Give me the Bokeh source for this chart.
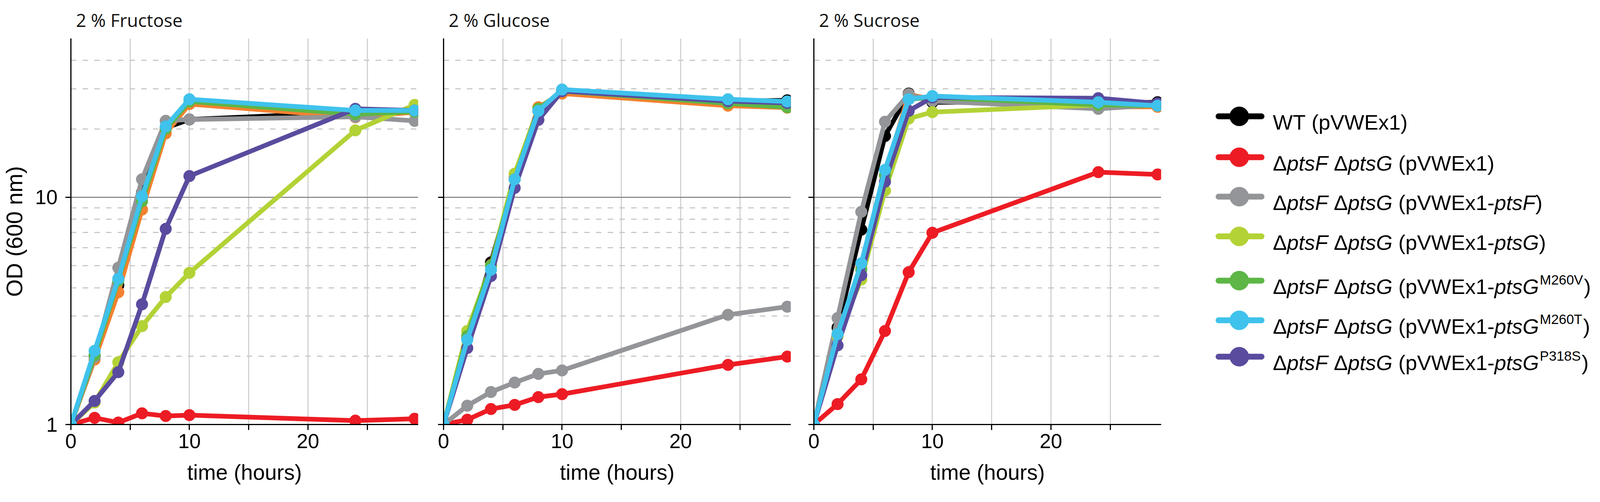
from bokeh.plotting import figure
from bokeh.layouts import row
from bokeh.models import Range1d, FixedTicker, NumeralTickFormatter, CustomJSTickFormatter
from bokeh.core.properties import value
from bokeh.embed import file_html
from bokeh.resources import INLINE

# ---------------- data (OD600) ----------------
hours = [0, 2, 4, 6, 8, 10, 24, 29]

panel_titles = ["2 % Fructose", "2 % Glucose", "2 % Sucrose"]

# 2 % Fructose
fru_wt    = [1.0, 2.00, 4.10, 10.5, 20.2, 22.0, 23.7, 23.7]
fru_dd    = [1.0, 1.07, 1.02, 1.12, 1.09, 1.10, 1.04, 1.06]
fru_ptsF  = [1.0, 1.98, 4.90, 12.0, 21.7, 22.0, 22.6, 21.7]
fru_ptsG  = [1.0, 1.25, 1.88, 2.71, 3.64, 4.65, 19.7, 25.5]
fru_m260v = [1.0, 2.02, 4.30, 9.60, 20.0, 26.4, 23.2, 23.8]
fru_m260t = [1.0, 2.11, 4.38, 10.1, 20.5, 27.0, 24.1, 24.1]
fru_p318s = [1.0, 1.27, 1.70, 3.38, 7.26, 12.4, 24.5, 24.1]
fru_extra = [1.0, 1.93, 3.82, 8.83, 19.1, 25.7, 22.5, 23.7]

# 2 % Glucose
glc_wt    = [1.0, 2.40, 5.17, 12.0, 24.0, 29.5, 26.5, 26.7]
glc_dd    = [1.0, 1.05, 1.17, 1.22, 1.32, 1.36, 1.83, 1.99]
glc_ptsF  = [1.0, 1.21, 1.39, 1.53, 1.67, 1.73, 3.04, 3.30]
glc_ptsG  = [1.0, 2.58, 5.00, 12.7, 24.5, 29.3, 26.0, 25.5]
glc_m260v = [1.0, 2.45, 5.00, 12.0, 24.5, 29.3, 25.9, 24.9]
glc_m260t = [1.0, 2.36, 4.80, 12.0, 24.0, 29.8, 27.0, 26.4]
glc_p318s = [1.0, 2.17, 4.50, 11.0, 21.9, 29.3, 26.5, 26.0]
glc_extra = [1.0, 2.46, 5.03, 12.3, 24.9, 28.6, 25.3, 24.8]

# 2 % Sucrose
suc_wt    = [1.0, 2.67, 7.20, 18.6, 28.6, 26.2, 26.0, 26.2]
suc_dd    = [1.0, 1.23, 1.58, 2.58, 4.68, 6.98, 12.9, 12.6]
suc_ptsF  = [1.0, 2.94, 8.63, 21.5, 28.4, 26.5, 24.5, 25.5]
suc_ptsG  = [1.0, 2.45, 4.35, 10.7, 22.2, 23.7, 25.5, 25.5]
suc_m260v = [1.0, 2.50, 4.80, 12.5, 27.0, 27.5, 25.5, 25.3]
suc_m260t = [1.0, 2.50, 5.12, 13.2, 27.0, 27.9, 26.2, 25.3]
suc_p318s = [1.0, 2.23, 4.54, 11.7, 24.0, 27.5, 27.3, 25.9]
suc_extra = [1.0, 2.45, 4.90, 12.5, 28.4, 27.0, 25.0, 25.0]

x_ticks = [0, 5, 10, 15, 20, 25]
y_ticks = [1, 10]
y_minor = [2, 3, 4, 5, 6, 7, 8, 9, 20, 30, 40, 50]

strain_colors = {
    "wt": "#000000",
    "dd": "#ED1C24",
    "ptsF": "#939598",
    "ptsG": "#B3D236",
    "m260v": "#5DB646",
    "m260t": "#3FC2EC",
    "p318s": "#5A4B9E",
    "extra": "#F4812F",
}
draw_order = ["wt", "dd", "extra", "ptsF", "ptsG", "m260v", "p318s", "m260t"]
legend_order = ["wt", "dd", "ptsF", "ptsG", "m260v", "m260t", "p318s"]

# legend labels: (text, style) with style n = upright, i = italic, s = superscript
legend_labels = {
    "wt": [("WT", "n"), (" (pVWEx1)", "n")],
    "dd": [("\u0394", "n"), ("ptsF", "i"), (" \u0394", "n"), ("ptsG", "i"), (" (pVWEx1)", "n")],
    "ptsF": [("\u0394", "n"), ("ptsF", "i"), (" \u0394", "n"), ("ptsG", "i"), (" (pVWEx1-", "n"), ("ptsF", "i"), (")", "n")],
    "ptsG": [("\u0394", "n"), ("ptsF", "i"), (" \u0394", "n"), ("ptsG", "i"), (" (pVWEx1-", "n"), ("ptsG", "i"), (")", "n")],
    "m260v": [("\u0394", "n"), ("ptsF", "i"), (" \u0394", "n"), ("ptsG", "i"), (" (pVWEx1-", "n"), ("ptsG", "i"), ("M260V", "s"), (")", "n")],
    "m260t": [("\u0394", "n"), ("ptsF", "i"), (" \u0394", "n"), ("ptsG", "i"), (" (pVWEx1-", "n"), ("ptsG", "i"), ("M260T", "s"), (")", "n")],
    "p318s": [("\u0394", "n"), ("ptsF", "i"), (" \u0394", "n"), ("ptsG", "i"), (" (pVWEx1-", "n"), ("ptsG", "i"), ("P318S", "s"), (")", "n")],
}

panels = [
    {"wt": fru_wt, "dd": fru_dd, "ptsF": fru_ptsF, "ptsG": fru_ptsG, "m260v": fru_m260v,
     "m260t": fru_m260t, "p318s": fru_p318s, "extra": fru_extra},
    {"wt": glc_wt, "dd": glc_dd, "ptsF": glc_ptsF, "ptsG": glc_ptsG, "m260v": glc_m260v,
     "m260t": glc_m260t, "p318s": glc_p318s, "extra": glc_extra},
    {"wt": suc_wt, "dd": suc_dd, "ptsF": suc_ptsF, "ptsG": suc_ptsG, "m260v": suc_m260v,
     "m260t": suc_m260t, "p318s": suc_p318s, "extra": suc_extra},
]

# ---------------- layout ----------------
FRAME_W, FRAME_H = 889, 989
TOP, BOTTOM = 92, 185
LEFTS = [170, 38, 37]
RIGHTS = [27, 22, 36]
TOTAL_H = TOP + FRAME_H + BOTTOM
TICK_FONT = "Liberation Sans"


def make_panel(i):
    p = figure(frame_width=FRAME_W, frame_height=FRAME_H,
               min_border_left=LEFTS[i], min_border_right=RIGHTS[i],
               min_border_top=TOP, min_border_bottom=BOTTOM,
               x_range=Range1d(0, 29.3), y_range=Range1d(1, 50), y_axis_type="log",
               output_backend="svg", toolbar_location=None)
    p.outline_line_color = None
    p.background_fill_color = "white"

    p.title.text = panel_titles[i]
    p.title.text_font = "Open Sans"
    p.title.text_font_size = "46px"
    p.title.text_font_style = "normal"
    p.title.text_color = "#111111"
    p.title.align = "left"
    p.title.offset = 13
    p.title.standoff = 34

    # grids
    p.xgrid.ticker = FixedTicker(ticks=[5, 10, 15, 20, 25])
    p.xgrid.grid_line_color = "#d2d2d2"
    p.xgrid.grid_line_width = 3
    p.ygrid.ticker = FixedTicker(ticks=[10], minor_ticks=y_minor)
    p.ygrid.grid_line_color = "#8c8c8c"
    p.ygrid.grid_line_width = 3
    p.ygrid.minor_grid_line_color = "#c9c9c9"
    p.ygrid.minor_grid_line_width = 3
    p.ygrid.minor_grid_line_dash = "14 16"

    # axes
    for ax in (p.xaxis[0], p.yaxis[0]):
        ax.axis_line_color = "black"
        ax.axis_line_width = 3
        ax.major_tick_line_color = "black"
        ax.major_tick_line_width = 3
        ax.major_tick_out = 14
        ax.major_tick_in = 0
        ax.minor_tick_line_color = None
        ax.major_label_text_font = TICK_FONT
        ax.major_label_text_font_size = "52px"
        ax.major_label_text_color = "black"
        ax.axis_label_text_font = TICK_FONT
        ax.axis_label_text_font_style = "normal"
        ax.axis_label_text_color = "black"

    p.xaxis.ticker = FixedTicker(ticks=x_ticks)
    p.xaxis.formatter = CustomJSTickFormatter(code="return (tick % 10 === 0) ? String(tick) : '';")
    p.xaxis.major_label_standoff = 10
    p.xaxis.axis_label = "time (hours)"
    p.xaxis.axis_label_text_font_size = "55px"
    p.xaxis.axis_label_standoff = 28

    p.yaxis.ticker = FixedTicker(ticks=y_ticks, minor_ticks=[])
    if i == 0:
        p.yaxis.formatter = NumeralTickFormatter(format="0")
        p.yaxis.major_label_standoff = 20
        p.yaxis.axis_label = "OD (600 nm)"
        p.yaxis.axis_label_text_font_size = "58px"
        p.yaxis.axis_label_standoff = 18
    else:
        p.yaxis.formatter = CustomJSTickFormatter(code="return '';")
        p.yaxis.major_label_standoff = 0

    data = panels[i]
    for key in draw_order:
        c = strain_colors[key]
        p.line(hours, data[key], line_color=c, line_width=12, line_join="round")
        p.scatter(hours, data[key], size=30, fill_color=c, line_color=c, line_width=1)
    return p


# ---------------- legend (its own figure, pixel coordinates) ----------------
ADV = {"W": 944, "T": 611, " ": 278, "(": 333, ")": 333, "p": 556, "V": 667, "E": 667,
       "x": 500, "1": 556, "-": 333, "t": 278, "s": 500, "F": 611, "G": 778, "M": 833,
       "2": 556, "6": 556, "0": 556, "P": 667, "3": 556, "8": 556, "S": 667, "\u0394": 668}
LEG_W = 1083
LEG_FONT = 54
SUP_FONT = 35
leg_rows_y = [257, 392, 522, 653, 799, 930, 1050]   # row centres (layout)
LINE_X0, LINE_X1, DOT_X, TEXT_X = 111, 221, 164, 250


def twidth(s, size):
    return sum(ADV.get(ch, 556) for ch in s) * size / 1000.0


leg = figure(width=LEG_W, height=TOTAL_H, x_range=Range1d(0, LEG_W), y_range=Range1d(TOTAL_H, 0),
             min_border=0, output_backend="svg", toolbar_location=None)
leg.axis.visible = False
leg.grid.visible = False
leg.outline_line_color = None

pieces = {"n": ([], [], []), "i": ([], [], []), "s": ([], [], [])}
for r, key in enumerate(legend_order):
    yc = leg_rows_y[r]
    c = strain_colors[key]
    leg.line([LINE_X0, LINE_X1], [yc, yc], line_color=c, line_width=15, line_cap="round")
    leg.scatter([DOT_X], [yc], size=49, fill_color=c, line_color=c)
    base = yc + 0.36 * LEG_FONT
    x = TEXT_X
    for txt, st in legend_labels[key]:
        size = SUP_FONT if st == "s" else LEG_FONT
        lead = len(txt) - len(txt.lstrip(" "))
        x += lead * twidth(" ", size)
        core = txt.lstrip(" ")
        if st == "s":
            pieces[st][0].append(x + 2)
            pieces[st][1].append(base - 23)
            pieces[st][2].append(core)
            x += twidth(core, size) + 4
        else:
            pieces[st][0].append(x)
            pieces[st][1].append(base)
            pieces[st][2].append(core)
            x += twidth(core, size)

for st, (xs, ys, ts) in pieces.items():
    if not xs:
        continue
    leg.text(x=xs, y=ys, text=ts, text_font=value("Liberation Sans"),
             text_font_size=f"{SUP_FONT if st == 's' else LEG_FONT}px",
             text_font_style="italic" if st == "i" else "normal",
             text_baseline="alphabetic", text_align="left", text_color="black")

figs = [make_panel(i) for i in range(3)]
layout = row(*figs, leg, spacing=0)

open("out.html", "w").write(file_html(layout, INLINE))
